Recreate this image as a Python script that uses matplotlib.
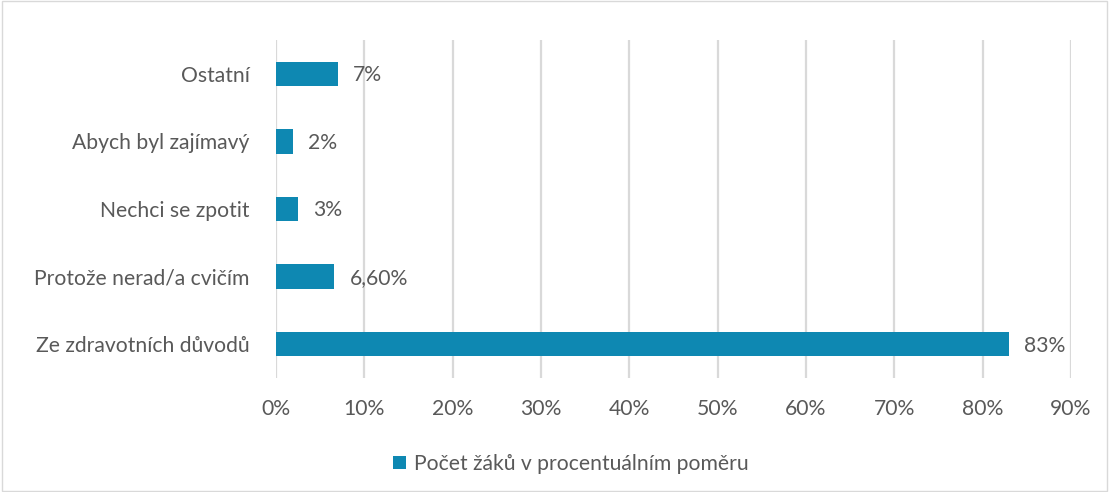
import matplotlib
matplotlib.use("Agg")
import matplotlib.pyplot as plt
from matplotlib.patches import Rectangle

categories = ["Ze zdravotních důvodů", "Protože nerad/a cvičím", "Nechci se zpotit",
              "Abych byl zajímavý", "Ostatní"]
values = [83.0, 6.6, 2.5, 1.9, 7.0]
value_labels = ["83%", "6,60%", "3%", "2%", "7%"]
xticks = [0, 10, 20, 30, 40, 50, 60, 70, 80, 90]
series_name = "Počet žáků v procentuálním poměru"

color = "#0E88B2"
text_color = "#595959"
fs = 15.2
plt.rcParams['font.family'] = ['Lato', 'DejaVu Sans']

fig = plt.figure(figsize=(11.09, 4.92), dpi=100)
ax = fig.add_axes([0.2489, 0.2317, 0.9657 - 0.2489, 0.9187 - 0.2317])

y = list(range(len(categories)))
bars = ax.barh(y, values, height=0.36, color=color, zorder=3, label=series_name)
for yi, v, lab in zip(y, values, value_labels):
    ax.annotate(lab, (v, yi), xytext=(11, -1), textcoords="offset points",
                va="center", ha="left", fontsize=fs, color=text_color)

ax.set_xlim(0, 90)
ax.set_ylim(-0.5, len(categories) - 0.5)
ax.set_xticks(xticks)
ax.set_xticklabels([f"{t}%" for t in xticks], fontsize=fs, color=text_color)
ax.set_yticks(y)
ax.set_yticklabels(categories, fontsize=fs, color=text_color)
ax.tick_params(axis='both', length=0)
ax.tick_params(axis='x', pad=15)
ax.tick_params(axis='y', pad=19)
ax.grid(axis='x', color="#D9D9D9", linewidth=1.6, zorder=0)
for s in ax.spines.values():
    s.set_visible(False)

leg = fig.legend(handles=[bars], labels=[series_name], loc="center",
                 bbox_to_anchor=(0.515, 0.057), frameon=False, fontsize=fs,
                 handlelength=0.6, handleheight=0.6, handletextpad=0.4)
for t in leg.get_texts():
    t.set_color(text_color)

fig.patches.append(Rectangle((0.002, 0.002), 0.996, 0.996, transform=fig.transFigure,
                             fill=False, edgecolor="#D9D9D9", linewidth=1))
fig.savefig("out.png", dpi=100)
